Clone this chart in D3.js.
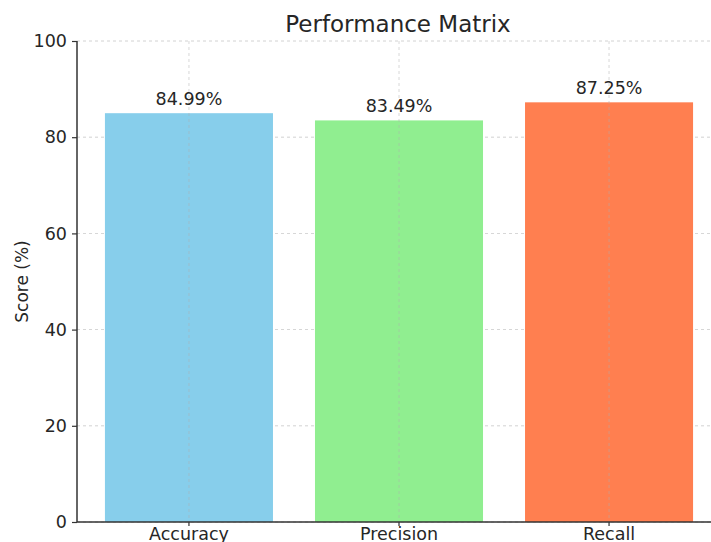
<!DOCTYPE html>
<html>
<head>
<meta charset="utf-8">
<script src="https://cdn.jsdelivr.net/npm/d3@7"></script>
<style>
  body { margin: 0; background: #fff; }
  svg { display: block; font-family: "DejaVu Sans", sans-serif; }
</style>
</head>
<body>
<div id="chart"></div>
<script>
// chart data
const metrics = ['Accuracy', 'Precision', 'Recall'];
const scores = [84.99, 83.49, 87.25];
const barColours = ['#87CEEB', '#90EE90', '#FF7F50'];
const yTicks = [0, 20, 40, 60, 80, 100];

const width = 711;
const height = 542;
const plotLeft = 77;
const plotTop = 41;
const plotBottom = 522;

const svg = d3.select('#chart')
    .append('svg')
        .attr('width', width)
        .attr('height', height);

const xScale = d3.scaleBand()
    .domain(metrics)
    .range([plotLeft, 721])
    .paddingInner(0.2)
    .paddingOuter(0.133);

const yScale = d3.scaleLinear()
    .domain([0, 100])
    .range([plotBottom, plotTop]);

// grid lines
svg.append('g')
    .selectAll('line')
    .data(yTicks)
    .enter()
        .append('line')
            .attr('x1', plotLeft)
            .attr('x2', width)
            .attr('y1', d => yScale(d))
            .attr('y2', d => yScale(d))
            .attr('stroke', '#b0b0b0')
            .attr('stroke-width', 0.8)
            .attr('stroke-dasharray', '3,3')
            .attr('opacity', 0.7);

// bars
svg.append('g')
    .selectAll('rect')
    .data(metrics)
    .enter()
        .append('rect')
            .attr('x', d => xScale(d))
            .attr('y', (d, i) => yScale(scores[i]))
            .attr('width', xScale.bandwidth())
            .attr('height', (d, i) => plotBottom - yScale(scores[i]))
            .attr('fill', (d, i) => barColours[i]);

// vertical grid shows through the bars in the reference
svg.append('g')
    .selectAll('line')
    .data(metrics)
    .enter()
        .append('line')
            .attr('x1', d => xScale(d) + xScale.bandwidth() / 2)
            .attr('x2', d => xScale(d) + xScale.bandwidth() / 2)
            .attr('y1', plotTop)
            .attr('y2', plotBottom)
            .attr('stroke', '#b0b0b0')
            .attr('stroke-width', 0.8)
            .attr('stroke-dasharray', '3,3')
            .attr('opacity', 0.6);

// value labels
svg.append('g')
    .selectAll('text')
    .data(metrics)
    .enter()
        .append('text')
            .attr('x', d => xScale(d) + xScale.bandwidth() / 2)
            .attr('y', (d, i) => yScale(scores[i]) - 8)
            .attr('text-anchor', 'middle')
            .attr('font-size', 17.5)
            .attr('fill', '#262626')
            .text((d, i) => scores[i].toFixed(2) + '%');

// axes
const yAxis = svg.append('g')
    .attr('transform', `translate(${plotLeft}, 0)`)
    .call(d3.axisLeft(yScale).tickValues(yTicks).tickSize(5).tickPadding(5));

const xAxis = svg.append('g')
    .attr('transform', `translate(0, ${plotBottom})`)
    .call(d3.axisBottom(xScale).tickSize(4).tickPadding(2));

[yAxis, xAxis].forEach(ax => {
    ax.select('.domain').attr('stroke', '#333').attr('stroke-width', 1.5);
    ax.selectAll('.tick line').attr('stroke', '#333').attr('stroke-width', 1.2);
    ax.selectAll('.tick text')
        .attr('font-size', 17.5)
        .attr('fill', '#262626')
        .attr('font-family', '"DejaVu Sans", sans-serif');
});
yAxis.select('.domain').attr('d', `M0,${plotTop}V${plotBottom}`);
xAxis.select('.domain').attr('d', `M${plotLeft},0H${width + 20}`);

// title and axis label
svg.append('text')
    .attr('x', 398)
    .attr('y', 32)
    .attr('text-anchor', 'middle')
    .attr('font-size', 23)
    .attr('fill', '#262626')
    .text('Performance Matrix');

svg.append('text')
    .attr('transform', `translate(28, ${(plotTop + plotBottom) / 2}) rotate(-90)`)
    .attr('text-anchor', 'middle')
    .attr('font-size', 17)
    .attr('fill', '#262626')
    .text('Score (%)');
</script>
</body>
</html>
